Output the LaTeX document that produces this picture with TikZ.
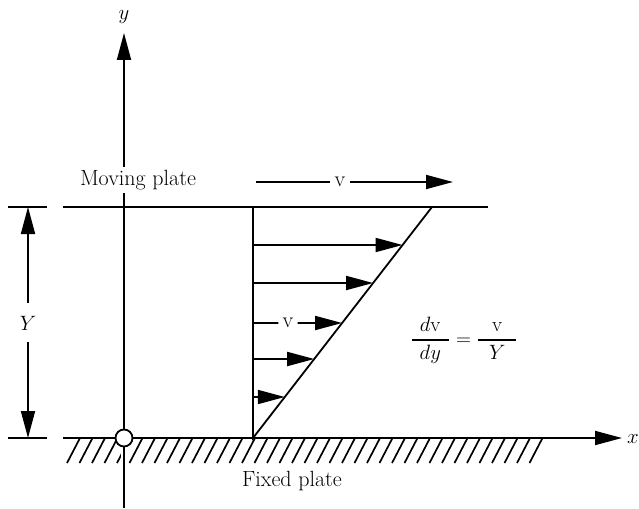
\documentclass[tikz,border=0pt]{standalone}
\usetikzlibrary{arrows.meta,calc}
\begin{document}
\begin{tikzpicture}[x=1pt,y=-1pt,
  every node/.style={inner sep=0pt},
  thk/.style={line width=1.8pt},
  arr/.style={thk,-{Triangle[length=27pt,width=14pt]}},
  hatchln/.style={line width=1.7pt},
  lbl/.style={font=\fontsize{22}{26}\selectfont},
  mth/.style={font=\fontsize{20.74}{25}\selectfont}]
\useasboundingbox (0,0) rectangle (639,508);

% key points
\coordinate (ybot) at (124,508);
\coordinate (ytop) at (124,33);
\coordinate (O) at (124,438);
\coordinate (mpL) at (63,207);
\coordinate (mpR) at (488,207);
\coordinate (fpL) at (63,438);
\coordinate (fpR) at (622,438);
\coordinate (tk1a) at (8,207);
\coordinate (tk1b) at (47,207);
\coordinate (tk2a) at (8,438);
\coordinate (tk2b) at (47,438);
\coordinate (Ytop) at (28,207);
\coordinate (Ybot) at (28,438);
\coordinate (Yt) at (28,303);
\coordinate (Yb) at (28,342);
\coordinate (P0) at (253,438);
\coordinate (P1) at (253,207);
\coordinate (P2) at (432,207);

% hatching under the fixed plate
\foreach \i in {0,...,37}
  \draw[hatchln] (67+12.5*\i,463) -- ++(13,-25);

% y axis
\draw[white,line width=6pt] (124,446) -- (124,465);
\draw[arr] (ybot) -- (ytop);
\node[mth] (ylab) at (124,17) {$y$};

% plates
\draw[thk] (mpL) -- (mpR);
\draw[arr] (fpL) -- (fpR);
\node[mth] (xlab) at (633,439) {$x$};

% end ticks and dimension Y
\draw[thk] (tk1a) -- (tk1b);
\draw[thk] (tk2a) -- (tk2b);
\node[mth] (Ylab) at (28,323) {$Y$};
\draw[arr] (Yt) -- (Ytop);
\draw[arr] (Yb) -- (Ybot);

% origin circle
\node[circle,draw,thk,fill=white,minimum size=17pt] (Oc) at (O) {};

% labels of plates
\node[lbl,fill=white,inner sep=3pt] (mp) at (138,180) {Moving plate};
\node[lbl] (fp) at (292,481) {Fixed plate};

% plate velocity
\coordinate (va) at (256,182);
\coordinate (vb) at (453,182);
\node[lbl,inner xsep=4pt] (vt) at (340,182) {v};
\draw[thk] (va) -- (vt);
\draw[arr] (vt) -- (vb);

% velocity profile
\draw[thk] (P1) -- (P0) -- (P2);
\foreach \n/\t in {1/0.8355,2/0.671,4/0.342,5/0.1775}{
  \coordinate (a\n t) at ($(P0)!\t!(P2)$);
  \coordinate (a\n s) at (P0 |- a\n t);
  \draw[arr] (a\n s) -- (a\n t);
}
\coordinate (a3t) at ($(P0)!0.4978!(P2)$);
\coordinate (a3s) at (P0 |- a3t);
\node[lbl,inner xsep=4pt] (vm) at (288,323) {v};
\draw[thk] (a3s) -- (vm);
\draw[arr] (vm) -- (a3t);

% formula
\node[mth] (eq) at (464,340) {$\displaystyle{\hspace{0.4em}d\mathrm{v}\hspace{0.4em}\above 1.2pt dy} = {\hspace{0.68em}\mathrm{v}\hspace{0.68em}\above 1.2pt Y}$};
\end{tikzpicture}
\end{document}
